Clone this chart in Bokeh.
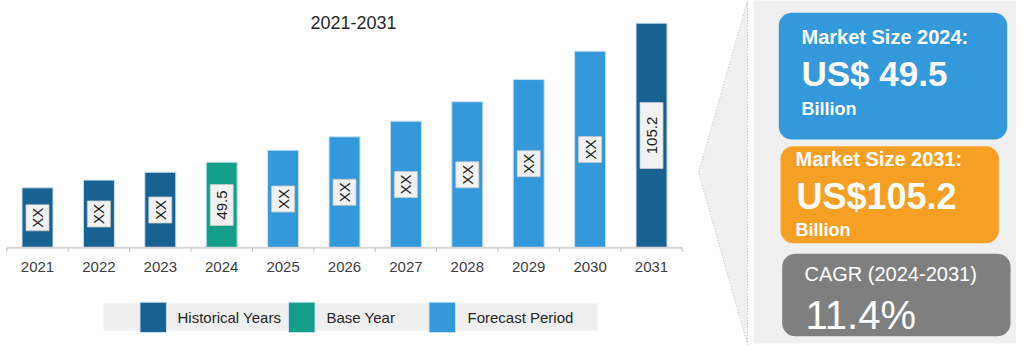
import numpy as np
from bokeh.plotting import figure
from bokeh.models import Range1d, ColumnDataSource
from bokeh.core.properties import value
from bokeh.embed import file_html
from bokeh.resources import INLINE

# ---------------- data ----------------
years = [2021, 2022, 2023, 2024, 2025, 2026, 2027, 2028, 2029, 2030, 2031]
heights = [28.1, 31.7, 35.4, 40.1, 45.7, 52.0, 59.3, 68.4, 78.8, 92.1, 105.2]
bar_labels = ["XX", "XX", "XX", "49.5", "XX", "XX", "XX", "XX", "XX", "XX", "105.2"]
groups = ["Historical Years"] * 3 + ["Base Year"] + ["Forecast Period"] * 7
legend_items = ["Historical Years", "Base Year", "Forecast Period"]
title_text = "2021-2031"
box1_texts = ["Market Size 2024:", "US$ 49.5", "Billion"]
box2_texts = ["Market Size 2031:", "US$105.2", "Billion"]
box3_texts = ["CAGR (2024-2031)", "11.4%"]

# ---------------- styles ----------------
palette = {"Historical Years": "#186292", "Base Year": "#139e8a", "Forecast Period": "#3499da"}
FONT = value("Liberation Sans")

W, H = 1016, 356
# pixel anchors (screen coordinates)
first_center_px, step_px = 37.0, 61.4
base_px, px_per_unit = 247.3, 2.135

x0 = years[0] - first_center_px / step_px
x1 = x0 + W / step_px
y1 = base_px / px_per_unit
y0 = y1 - H / px_per_unit

p = figure(width=W, height=H, x_range=Range1d(x0, x1), y_range=Range1d(y0, y1),
           x_axis_type=None, y_axis_type=None, output_backend="svg",
           toolbar_location=None, min_border=0)
p.extra_x_ranges = {"px": Range1d(0, W)}
p.extra_y_ranges = {"py": Range1d(H, 0)}
p.grid.visible = False
p.outline_line_color = None
p.background_fill_color = "white"
p.border_fill_color = "white"


def rrect(xa, ya, xb, yb, r, n=10):
    xs, ys = [], []
    for cx, cy, a0 in [(xb - r, ya + r, -90), (xb - r, yb - r, 0), (xa + r, yb - r, 90), (xa + r, ya + r, 180)]:
        a = np.radians(np.linspace(a0, a0 + 90, n))
        xs += list(cx + r * np.cos(a))
        ys += list(cy + r * np.sin(a))
    return xs, ys


# ---------------- right panel ----------------
p.patch([747, 698, 747], [0, 172, 344], fill_color="#f0f0f0", line_color="#b0b0b0",
        line_dash="1 2", line_width=0.8, x_range_name="px", y_range_name="py")
p.quad(left=753, right=1030, top=-2, bottom=343, fill_color="#f0f0f0", line_color=None,
       x_range_name="px", y_range_name="py")

for (xa, ya, xb, yb), col in [((778.3, 12.3, 1006.7, 139), "#3399db"),
                              ((780, 145.7, 998.3, 242.7), "#f5a024"),
                              ((781.7, 253.3, 1010, 335.7), "#7f7f7f")]:
    xs, ys = rrect(xa, ya, xb, yb, 13)
    p.patch(xs, ys, fill_color=col, line_color=None, x_range_name="px", y_range_name="py")


def ptext(x, y, t, size, bold=False, color="white", align="left"):
    p.text(x=[x], y=[y], text=[t], text_font=FONT, text_font_size=size,
           text_font_style="bold" if bold else "normal", text_color=color,
           text_align=align, text_baseline="middle", x_range_name="px", y_range_name="py")


ptext(801, 36.7, box1_texts[0], "20px", True)
ptext(801, 73.3, box1_texts[1], "35px", True)
ptext(801, 108.3, box1_texts[2], "18px", True)
ptext(795, 158, box2_texts[0], "20px", True)
ptext(796, 195.8, box2_texts[1], "36px", True)
ptext(795, 229.8, box2_texts[2], "18px", True)
ptext(804, 273.8, box3_texts[0], "20px", False)
ptext(805, 314.2, box3_texts[1], "40px", False)

# ---------------- title ----------------
ptext(353, 21.7, title_text, "18px", False, color="#262626", align="center")

# ---------------- bars ----------------
colors = [palette[g] for g in groups]
colors[-1] = palette["Historical Years"]  # highlighted end-year bar
box_h = {"XX": 26, "49.5": 41, "105.2": 66}
src = ColumnDataSource(dict(
    year=years, height=heights, color=colors, label=bar_labels,
    mid=[h / 2 for h in heights], bh=[box_h.get(l, 12 + 8 * len(l)) for l in bar_labels]))

p.vbar(x="year", top="height", bottom=0, width=31 / step_px, source=src,
       fill_color="color", line_color="#c9e0f2", line_width=1)
p.rect(x="year", y="mid", width=23, height="bh", width_units="screen", height_units="screen",
       source=src, fill_color="#f2f2f2", line_color="#c8c8c8", line_width=0.8)
p.text(x="year", y="mid", text="label", angle=np.pi / 2, source=src, text_font=FONT,
       text_font_size="15px", text_color="#1a1a1a", text_align="center", text_baseline="middle")

# ---------------- axis ----------------
p.segment(x0=[years[0] - 0.5], y0=[base_px], x1=[years[-1] + 0.5], y1=[base_px],
          line_color="#d6d6d6", line_width=2, y_range_name="py")
bounds = [y - 0.5 for y in years] + [years[-1] + 0.5]
p.segment(x0=bounds, y0=[base_px] * len(bounds), x1=bounds, y1=[base_px + 4] * len(bounds),
          line_color="#bdbdbd", line_width=1, y_range_name="py")
p.text(x=years, y=[266] * len(years), text=[str(y) for y in years], text_font=FONT,
       text_font_size="15px", text_color="#404040", text_align="center",
       text_baseline="middle", y_range_name="py")

# ---------------- legend ----------------
p.quad(left=103, right=597, top=303, bottom=330, fill_color="#efefef", line_color=None,
       x_range_name="px", y_range_name="py")
for item, sx, tx in zip(legend_items, [139.5, 288, 428.5], [177, 326, 467]):
    p.quad(left=sx, right=sx + 26.5, top=301.7, bottom=332, fill_color=palette[item],
           line_color="#c9e0f2", line_width=1, x_range_name="px", y_range_name="py")
    ptext(tx, 317, item, "15px", False, color="#262626")

open("out.html", "w").write(file_html(p, INLINE))
